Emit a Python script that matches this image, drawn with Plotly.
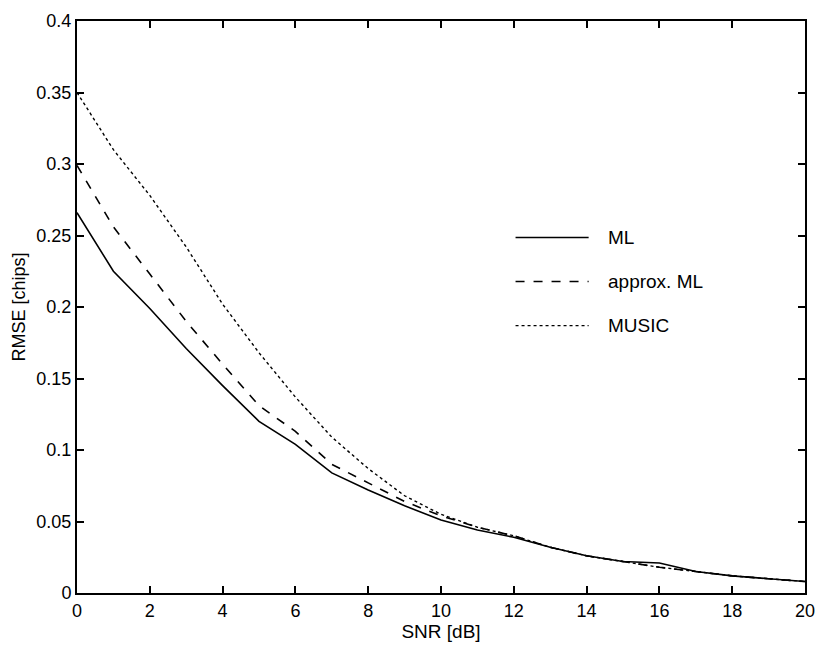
import plotly.graph_objects as go

# SNR grid and RMSE curves for the three delay estimators
snr_db = list(range(0, 21))
rmse_ml = [0.266, 0.225, 0.199, 0.171, 0.145, 0.120, 0.104, 0.084, 0.072, 0.061,
           0.051, 0.044, 0.039, 0.032, 0.026, 0.022, 0.021, 0.015, 0.012, 0.010, 0.008]
rmse_approx_ml = [0.299, 0.256, 0.223, 0.190, 0.160, 0.131, 0.113, 0.090, 0.077, 0.064,
                  0.054, 0.046, 0.040, 0.032, 0.026, 0.022, 0.018, 0.015, 0.012, 0.010, 0.008]
rmse_music = [0.350, 0.310, 0.278, 0.242, 0.202, 0.168, 0.137, 0.109, 0.087, 0.068,
              0.055, 0.046, 0.040, 0.032, 0.026, 0.022, 0.018, 0.015, 0.012, 0.010, 0.008]

x_ticks = list(range(0, 21, 2))
y_ticks = [0, 0.05, 0.1, 0.15, 0.2, 0.25, 0.3, 0.35, 0.4]
y_tick_text = ["0", "0.05", "0.1", "0.15", "0.2", "0.25", "0.3", "0.35", "0.4"]

FONT = "Liberation Sans, Arial, Helvetica, sans-serif"

series = [
    ("ML", rmse_ml, "solid", 1.6),
    ("approx. ML", rmse_approx_ml, "dash", 1.6),
    ("MUSIC", rmse_music, "dot", 1.4),
]

fig = go.Figure()
for name, vals, dash, w in series:
    fig.add_trace(go.Scatter(
        x=snr_db, y=vals, mode="lines", name=name, showlegend=False,
        line=dict(color="black", width=w, dash=dash),
    ))

# Legend box drawn inside the axes: long sample lines with labels to their right
key_x0, key_x1, label_x = 0.6024, 0.7028, 0.727
key_rows_y = [0.6216, 0.5445, 0.4675]
for (name, _, dash, w), ky in zip(series, key_rows_y):
    fig.add_shape(type="line", xref="paper", yref="paper",
                  x0=key_x0, x1=key_x1, y0=ky, y1=ky,
                  line=dict(color="black", width=w, dash=dash))
    fig.add_annotation(xref="paper", yref="paper", x=label_x, y=ky,
                       xanchor="left", yanchor="middle", showarrow=False,
                       text=name, font=dict(family=FONT, size=19, color="black"))

axis_common = dict(
    showline=True, linecolor="black", linewidth=2,
    mirror="allticks", ticks="inside", ticklen=7, tickwidth=1.5, tickcolor="black",
    showgrid=False, zeroline=False,
    tickfont=dict(family=FONT, size=18, color="black"),
)

fig.update_xaxes(
    range=[0, 20], tickvals=x_ticks,
    title=dict(text="SNR [dB]", font=dict(family=FONT, size=19, color="black"), standoff=2),
    **axis_common,
)
fig.update_yaxes(
    range=[0, 0.4], tickvals=y_ticks, ticktext=y_tick_text,
    title=dict(text="RMSE [chips]", font=dict(family=FONT, size=18, color="black"), standoff=6),
    **axis_common,
)

fig.update_layout(
    width=826, height=647,
    margin=dict(l=77, r=12, t=11, b=52),
    paper_bgcolor="white", plot_bgcolor="white",
)

fig.write_html("out.html")
